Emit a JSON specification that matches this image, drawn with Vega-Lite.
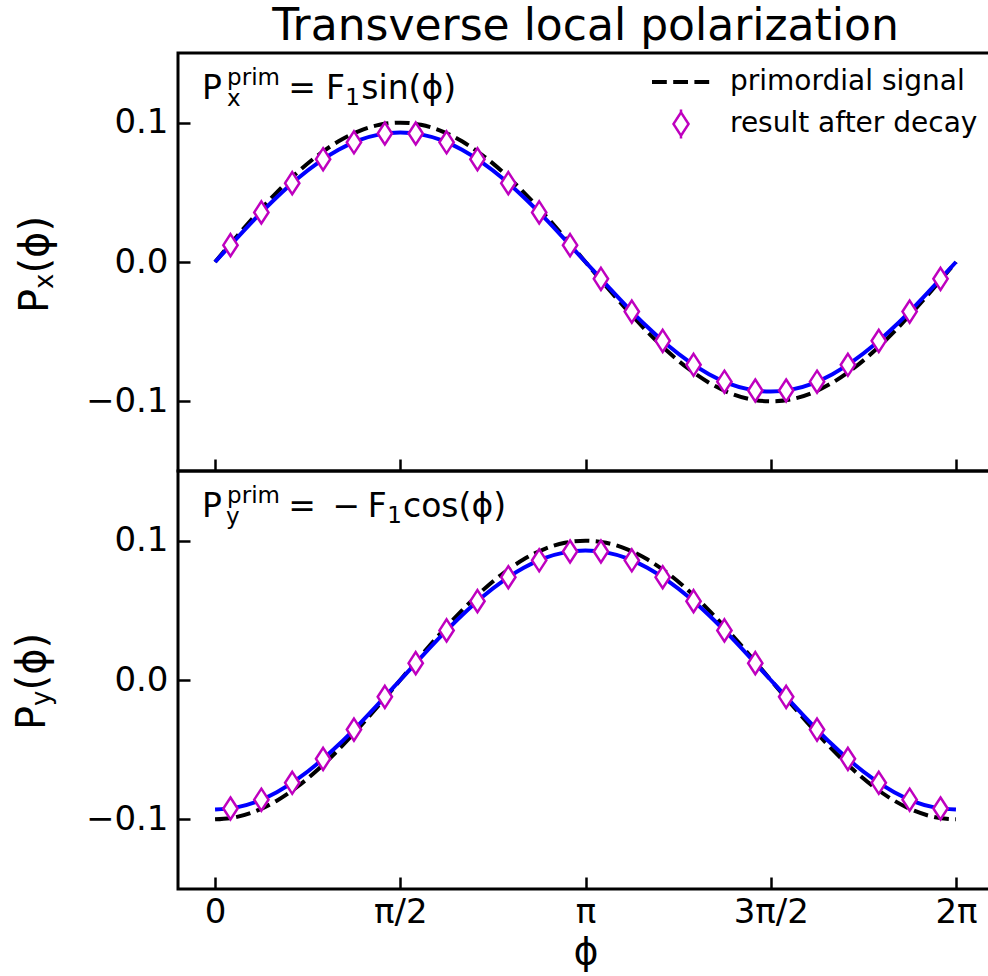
{
  "$schema": "https://vega.github.io/schema/vega-lite/v6.json",
  "background": "white",
  "padding": {"left": 11, "top": 3, "right": 0, "bottom": 2},
  "spacing": 0,
  "bounds": "flush",
  "config": {
    "font": "DejaVu Sans",
    "view": {"stroke": "black", "strokeWidth": 3},
    "axis": {
      "grid": false, "domain": false,
      "labelFont": "DejaVu Sans", "labelFontSize": 34, "labelColor": "black",
      "tickColor": "black", "tickWidth": 2.5, "tickSize": -12,
      "titleFont": "DejaVu Sans", "titleColor": "black", "titleFontWeight": "normal"
    },
    "text": {"font": "DejaVu Sans", "color": "black"}
  },
  "resolve": {"scale": {"stroke": "independent"}, "legend": {"stroke": "independent"}},
  "datasets": {
    "curves": [
      {"phi": 0, "primX": 0, "decX": 0, "primY": -0.1, "decY": -0.093},
      {"phi": 0.1745, "primX": 0.0174, "decX": 0.0161, "primY": -0.0985, "decY": -0.0916},
      {"phi": 0.3491, "primX": 0.0342, "decX": 0.0318, "primY": -0.094, "decY": -0.0874},
      {"phi": 0.5236, "primX": 0.05, "decX": 0.0465, "primY": -0.0866, "decY": -0.0805},
      {"phi": 0.6981, "primX": 0.0643, "decX": 0.0598, "primY": -0.0766, "decY": -0.0712},
      {"phi": 0.8727, "primX": 0.0766, "decX": 0.0712, "primY": -0.0643, "decY": -0.0598},
      {"phi": 1.0472, "primX": 0.0866, "decX": 0.0805, "primY": -0.05, "decY": -0.0465},
      {"phi": 1.2217, "primX": 0.094, "decX": 0.0874, "primY": -0.0342, "decY": -0.0318},
      {"phi": 1.3963, "primX": 0.0985, "decX": 0.0916, "primY": -0.0174, "decY": -0.0161},
      {"phi": 1.5708, "primX": 0.1, "decX": 0.093, "primY": 0, "decY": 0},
      {"phi": 1.7453, "primX": 0.0985, "decX": 0.0916, "primY": 0.0174, "decY": 0.0161},
      {"phi": 1.9199, "primX": 0.094, "decX": 0.0874, "primY": 0.0342, "decY": 0.0318},
      {"phi": 2.0944, "primX": 0.0866, "decX": 0.0805, "primY": 0.05, "decY": 0.0465},
      {"phi": 2.2689, "primX": 0.0766, "decX": 0.0712, "primY": 0.0643, "decY": 0.0598},
      {"phi": 2.4435, "primX": 0.0643, "decX": 0.0598, "primY": 0.0766, "decY": 0.0712},
      {"phi": 2.618, "primX": 0.05, "decX": 0.0465, "primY": 0.0866, "decY": 0.0805},
      {"phi": 2.7925, "primX": 0.0342, "decX": 0.0318, "primY": 0.094, "decY": 0.0874},
      {"phi": 2.9671, "primX": 0.0174, "decX": 0.0161, "primY": 0.0985, "decY": 0.0916},
      {"phi": 3.1416, "primX": 0, "decX": 0, "primY": 0.1, "decY": 0.093},
      {"phi": 3.3161, "primX": -0.0174, "decX": -0.0161, "primY": 0.0985, "decY": 0.0916},
      {"phi": 3.4907, "primX": -0.0342, "decX": -0.0318, "primY": 0.094, "decY": 0.0874},
      {"phi": 3.6652, "primX": -0.05, "decX": -0.0465, "primY": 0.0866, "decY": 0.0805},
      {"phi": 3.8397, "primX": -0.0643, "decX": -0.0598, "primY": 0.0766, "decY": 0.0712},
      {"phi": 4.0143, "primX": -0.0766, "decX": -0.0712, "primY": 0.0643, "decY": 0.0598},
      {"phi": 4.1888, "primX": -0.0866, "decX": -0.0805, "primY": 0.05, "decY": 0.0465},
      {"phi": 4.3633, "primX": -0.094, "decX": -0.0874, "primY": 0.0342, "decY": 0.0318},
      {"phi": 4.5379, "primX": -0.0985, "decX": -0.0916, "primY": 0.0174, "decY": 0.0161},
      {"phi": 4.7124, "primX": -0.1, "decX": -0.093, "primY": 0, "decY": 0},
      {"phi": 4.8869, "primX": -0.0985, "decX": -0.0916, "primY": -0.0174, "decY": -0.0161},
      {"phi": 5.0615, "primX": -0.094, "decX": -0.0874, "primY": -0.0342, "decY": -0.0318},
      {"phi": 5.236, "primX": -0.0866, "decX": -0.0805, "primY": -0.05, "decY": -0.0465},
      {"phi": 5.4105, "primX": -0.0766, "decX": -0.0712, "primY": -0.0643, "decY": -0.0598},
      {"phi": 5.5851, "primX": -0.0643, "decX": -0.0598, "primY": -0.0766, "decY": -0.0712},
      {"phi": 5.7596, "primX": -0.05, "decX": -0.0465, "primY": -0.0866, "decY": -0.0805},
      {"phi": 5.9341, "primX": -0.0342, "decX": -0.0318, "primY": -0.094, "decY": -0.0874},
      {"phi": 6.1087, "primX": -0.0174, "decX": -0.0161, "primY": -0.0985, "decY": -0.0916},
      {"phi": 6.2832, "primX": 0, "decX": 0, "primY": -0.1, "decY": -0.093}
    ],
    "points": [
      {"phi": 0.1309, "px": 0.0121, "py": -0.0922, "err": 0.004},
      {"phi": 0.3927, "px": 0.0356, "py": -0.0859, "err": 0.004},
      {"phi": 0.6545, "px": 0.0566, "py": -0.0738, "err": 0.004},
      {"phi": 0.9163, "px": 0.0738, "py": -0.0566, "err": 0.004},
      {"phi": 1.1781, "px": 0.0859, "py": -0.0356, "err": 0.004},
      {"phi": 1.4399, "px": 0.0922, "py": -0.0121, "err": 0.004},
      {"phi": 1.7017, "px": 0.0922, "py": 0.0121, "err": 0.004},
      {"phi": 1.9635, "px": 0.0859, "py": 0.0356, "err": 0.004},
      {"phi": 2.2253, "px": 0.0738, "py": 0.0566, "err": 0.004},
      {"phi": 2.4871, "px": 0.0566, "py": 0.0738, "err": 0.004},
      {"phi": 2.7489, "px": 0.0356, "py": 0.0859, "err": 0.004},
      {"phi": 3.0107, "px": 0.0121, "py": 0.0922, "err": 0.004},
      {"phi": 3.2725, "px": -0.0121, "py": 0.0922, "err": 0.004},
      {"phi": 3.5343, "px": -0.0356, "py": 0.0859, "err": 0.004},
      {"phi": 3.7961, "px": -0.0566, "py": 0.0738, "err": 0.004},
      {"phi": 4.0579, "px": -0.0738, "py": 0.0566, "err": 0.004},
      {"phi": 4.3197, "px": -0.0859, "py": 0.0356, "err": 0.004},
      {"phi": 4.5815, "px": -0.0922, "py": 0.0121, "err": 0.004},
      {"phi": 4.8433, "px": -0.0922, "py": -0.0121, "err": 0.004},
      {"phi": 5.1051, "px": -0.0859, "py": -0.0356, "err": 0.004},
      {"phi": 5.3669, "px": -0.0738, "py": -0.0566, "err": 0.004},
      {"phi": 5.6287, "px": -0.0566, "py": -0.0738, "err": 0.004},
      {"phi": 5.8905, "px": -0.0356, "py": -0.0859, "err": 0.004},
      {"phi": 6.1523, "px": -0.0121, "py": -0.0922, "err": 0.004}
    ]
  },
  "vconcat": [
    {
      "title": {"text": "Transverse local polarization", "fontSize": 44, "fontWeight": "normal", "font": "DejaVu Sans", "color": "black", "anchor": "middle", "baseline": "alphabetic", "offset": -31},
      "width": 815,
      "height": 418,
      "layer": [
        {
          "data": {"name": "curves"},
          "mark": {"type": "line", "strokeWidth": 4, "strokeDash": [14.8, 6.4], "interpolate": "monotone"},
          "encoding": {
            "x": {"field": "phi", "type": "quantitative", "title": null,
                  "scale": {"domain": [-0.314159, 6.597345], "nice": false, "zero": false},
                  "axis": {"values": [0, 1.5708, 3.1416, 4.7124, 6.2832], "labels": false, "title": null}},
            "y": {"field": "primX", "type": "quantitative", "title": null,
                  "scale": {"domain": [-0.15, 0.15], "nice": false, "zero": false},
                  "axis": {"values": [-0.1, 0, 0.1], "format": ".1f", "labelPadding": 22, "title": null}},
            "stroke": {"datum": "primordial signal", "type": "nominal",
                       "scale": {"domain": ["primordial signal", "result after decay"], "range": ["black", "#BF00BF"]},
                       "legend": {
                         "orient": "top-right", "offset": 15, "padding": 0, "title": null,
                         "labelFont": "DejaVu Sans", "labelFontSize": 28, "labelColor": "black", "labelLimit": 0,
                         "symbolSize": 3364, "labelOffset": 35, "rowPadding": 8,
                         "symbolType": "stroke", "symbolStrokeWidth": 4,
                         "encode": {"symbols": {"update": {
                           "shape": {"signal": "datum.value === 'primordial signal' ? 'stroke' : 'M0,-0.4L0.26,0L0,0.4L-0.26,0Z M0,-0.5L0,-0.4 M0,0.4L0,0.5'"},
                           "strokeDash": {"signal": "datum.value === 'primordial signal' ? [14.8, 6.4] : [1, 0]"},
                           "strokeWidth": {"signal": "datum.value === 'primordial signal' ? 4 : 2.5"},
                           "fill": {"value": "white"},
                           "fillOpacity": {"value": 1},
                           "opacity": {"value": 1}
                         }}}
                       }}
          }
        },
        {
          "data": {"name": "curves"},
          "mark": {"type": "line", "stroke": "#0000FF", "strokeWidth": 4, "interpolate": "monotone"},
          "encoding": {
            "x": {"field": "phi", "type": "quantitative", "title": null},
            "y": {"field": "decX", "type": "quantitative", "title": null}
          }
        },
        {
          "data": {"name": "points"},
          "mark": {"type": "errorbar", "color": "#BF00BF", "thickness": 2.5},
          "encoding": {
            "x": {"field": "phi", "type": "quantitative", "title": null},
            "y": {"field": "px", "type": "quantitative", "title": null},
            "yError": {"field": "err"}
          }
        },
        {
          "data": {"name": "points"},
          "mark": {"type": "point", "shape": "M0,-1L0.65,0L0,1L-0.65,0Z", "size": 484, "filled": false, "fill": "white", "fillOpacity": 1, "strokeWidth": 2.5, "opacity": 1},
          "encoding": {
            "x": {"field": "phi", "type": "quantitative", "title": null},
            "y": {"field": "px", "type": "quantitative", "title": null},
            "stroke": {"datum": "result after decay", "type": "nominal"}
          }
        },
        {"data": {"values": [{}]}, "mark": {"type": "text", "text": "P", "fontSize": 33, "align": "left", "baseline": "alphabetic"},
         "encoding": {"x": {"datum": -0.110, "type": "quantitative"}, "y": {"datum": 0.117, "type": "quantitative"}}},
        {"data": {"values": [{}]}, "mark": {"type": "text", "text": "prim", "fontSize": 23, "align": "left", "baseline": "alphabetic"},
         "encoding": {"x": {"datum": 0.102, "type": "quantitative"}, "y": {"datum": 0.127, "type": "quantitative"}}},
        {"data": {"values": [{}]}, "mark": {"type": "text", "text": "x", "fontSize": 23, "align": "left", "baseline": "alphabetic"},
         "encoding": {"x": {"datum": 0.102, "type": "quantitative"}, "y": {"datum": 0.112, "type": "quantitative"}}},
        {"data": {"values": [{}]}, "mark": {"type": "text", "text": "=", "fontSize": 33, "align": "left", "baseline": "alphabetic"},
         "encoding": {"x": {"datum": 0.62, "type": "quantitative"}, "y": {"datum": 0.117, "type": "quantitative"}}},
        {"data": {"values": [{}]}, "mark": {"type": "text", "text": "F", "fontSize": 33, "align": "left", "baseline": "alphabetic"},
         "encoding": {"x": {"datum": 0.94, "type": "quantitative"}, "y": {"datum": 0.117, "type": "quantitative"}}},
        {"data": {"values": [{}]}, "mark": {"type": "text", "text": "1", "fontSize": 23, "align": "left", "baseline": "alphabetic"},
         "encoding": {"x": {"datum": 1.105, "type": "quantitative"}, "y": {"datum": 0.1125, "type": "quantitative"}}},
        {"data": {"values": [{}]}, "mark": {"type": "text", "text": "sin(ϕ)", "fontSize": 33, "align": "left", "baseline": "alphabetic"},
         "encoding": {"x": {"datum": 1.24, "type": "quantitative"}, "y": {"datum": 0.117, "type": "quantitative"}}},
        {"data": {"values": [{}]}, "mark": {"type": "text", "text": "P", "fontSize": 40, "align": "left", "baseline": "alphabetic", "angle": 270},
         "encoding": {"x": {"datum": -1.416, "type": "quantitative"}, "y": {"datum": -0.0366, "type": "quantitative"}}},
        {"data": {"values": [{}]}, "mark": {"type": "text", "text": "x", "fontSize": 26, "align": "left", "baseline": "alphabetic", "angle": 270},
         "encoding": {"x": {"datum": -1.374, "type": "quantitative"}, "y": {"datum": -0.0194, "type": "quantitative"}}},
        {"data": {"values": [{}]}, "mark": {"type": "text", "text": "(ϕ)", "fontSize": 40, "align": "left", "baseline": "alphabetic", "angle": 270},
         "encoding": {"x": {"datum": -1.416, "type": "quantitative"}, "y": {"datum": -0.0083, "type": "quantitative"}}}
      ]
    },
    {
      "width": 815,
      "height": 418,
      "layer": [
        {
          "data": {"name": "curves"},
          "mark": {"type": "line", "stroke": "black", "strokeWidth": 4, "strokeDash": [14.8, 6.4], "interpolate": "monotone"},
          "encoding": {
            "x": {"field": "phi", "type": "quantitative", "title": "ϕ",
                  "scale": {"domain": [-0.314159, 6.597345], "nice": false, "zero": false},
                  "axis": {"values": [0, 1.5708, 3.1416, 4.7124, 6.2832], "labelPadding": 18,
                           "labelExpr": "['0','π/2','π','3π/2','2π'][round(datum.value/1.5707963)]",
                           "title": "ϕ", "titleFontSize": 38, "titlePadding": 4}},
            "y": {"field": "primY", "type": "quantitative", "title": null,
                  "scale": {"domain": [-0.15, 0.15], "nice": false, "zero": false},
                  "axis": {"values": [-0.1, 0, 0.1], "format": ".1f", "labelPadding": 22, "title": null}}
          }
        },
        {
          "data": {"name": "curves"},
          "mark": {"type": "line", "stroke": "#0000FF", "strokeWidth": 4, "interpolate": "monotone"},
          "encoding": {
            "x": {"field": "phi", "type": "quantitative"},
            "y": {"field": "decY", "type": "quantitative", "title": null}
          }
        },
        {
          "data": {"name": "points"},
          "mark": {"type": "errorbar", "color": "#BF00BF", "thickness": 2.5},
          "encoding": {
            "x": {"field": "phi", "type": "quantitative"},
            "y": {"field": "py", "type": "quantitative", "title": null},
            "yError": {"field": "err"}
          }
        },
        {
          "data": {"name": "points"},
          "mark": {"type": "point", "shape": "M0,-1L0.65,0L0,1L-0.65,0Z", "size": 484, "filled": false, "fill": "white", "fillOpacity": 1, "stroke": "#BF00BF", "strokeWidth": 2.5, "opacity": 1},
          "encoding": {
            "x": {"field": "phi", "type": "quantitative"},
            "y": {"field": "py", "type": "quantitative", "title": null}
          }
        },
        {"data": {"values": [{}]}, "mark": {"type": "text", "text": "P", "fontSize": 33, "align": "left", "baseline": "alphabetic"},
         "encoding": {"x": {"datum": -0.110, "type": "quantitative"}, "y": {"datum": 0.117, "type": "quantitative"}}},
        {"data": {"values": [{}]}, "mark": {"type": "text", "text": "prim", "fontSize": 23, "align": "left", "baseline": "alphabetic"},
         "encoding": {"x": {"datum": 0.102, "type": "quantitative"}, "y": {"datum": 0.127, "type": "quantitative"}}},
        {"data": {"values": [{}]}, "mark": {"type": "text", "text": "y", "fontSize": 23, "align": "left", "baseline": "alphabetic"},
         "encoding": {"x": {"datum": 0.093, "type": "quantitative"}, "y": {"datum": 0.112, "type": "quantitative"}}},
        {"data": {"values": [{}]}, "mark": {"type": "text", "text": "=", "fontSize": 33, "align": "left", "baseline": "alphabetic"},
         "encoding": {"x": {"datum": 0.62, "type": "quantitative"}, "y": {"datum": 0.117, "type": "quantitative"}}},
        {"data": {"values": [{}]}, "mark": {"type": "text", "text": "−", "fontSize": 33, "align": "left", "baseline": "alphabetic"},
         "encoding": {"x": {"datum": 0.995, "type": "quantitative"}, "y": {"datum": 0.117, "type": "quantitative"}}},
        {"data": {"values": [{}]}, "mark": {"type": "text", "text": "F", "fontSize": 33, "align": "left", "baseline": "alphabetic"},
         "encoding": {"x": {"datum": 1.295, "type": "quantitative"}, "y": {"datum": 0.117, "type": "quantitative"}}},
        {"data": {"values": [{}]}, "mark": {"type": "text", "text": "1", "fontSize": 23, "align": "left", "baseline": "alphabetic"},
         "encoding": {"x": {"datum": 1.46, "type": "quantitative"}, "y": {"datum": 0.1125, "type": "quantitative"}}},
        {"data": {"values": [{}]}, "mark": {"type": "text", "text": "cos(ϕ)", "fontSize": 33, "align": "left", "baseline": "alphabetic"},
         "encoding": {"x": {"datum": 1.594, "type": "quantitative"}, "y": {"datum": 0.117, "type": "quantitative"}}},
        {"data": {"values": [{}]}, "mark": {"type": "text", "text": "P", "fontSize": 40, "align": "left", "baseline": "alphabetic", "angle": 270},
         "encoding": {"x": {"datum": -1.4415, "type": "quantitative"}, "y": {"datum": -0.0359, "type": "quantitative"}}},
        {"data": {"values": [{}]}, "mark": {"type": "text", "text": "y", "fontSize": 26, "align": "left", "baseline": "alphabetic", "angle": 270},
         "encoding": {"x": {"datum": -1.399, "type": "quantitative"}, "y": {"datum": -0.0186, "type": "quantitative"}}},
        {"data": {"values": [{}]}, "mark": {"type": "text", "text": "(ϕ)", "fontSize": 40, "align": "left", "baseline": "alphabetic", "angle": 270},
         "encoding": {"x": {"datum": -1.4415, "type": "quantitative"}, "y": {"datum": -0.0075, "type": "quantitative"}}}
      ]
    }
  ]
}
